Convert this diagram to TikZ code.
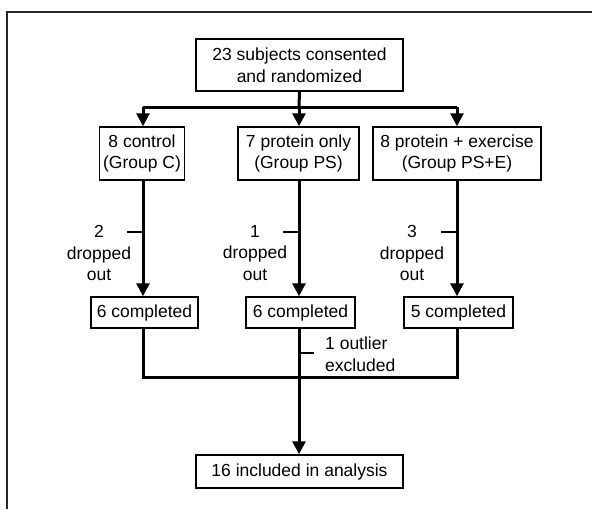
\documentclass[tikz,border=0pt]{standalone}
\usepackage{fontspec}
\setmainfont{Liberation Sans}
\usepackage{tikz}
\usetikzlibrary{arrows.meta, positioning}

\begin{document}
\begin{tikzpicture}[
    x=1pt, y=-1pt,
    every node/.style={font=\fontsize{17.5}{21.5}\selectfont, inner sep=0pt},
    box/.style={draw, line width=1.5pt, align=center},
    line/.style={line width=3pt},
    arrow/.style={line width=3pt, -{Triangle[width=13pt, length=13pt]}},
    note/.style={align=center}
]
    \useasboundingbox (0,0) rectangle (592,509);
    % outer frame, cut by the page edge
    \draw[line width=2pt, black!85] (7,509) -- (7,12) -- (592,12);

    \coordinate (lane1) at (143,0);
    \coordinate (lane2) at (299,0);
    \coordinate (lane3) at (457,0);

    \node[box, minimum width=207pt, minimum height=52pt] (start) at (299.5,65) {23 subjects consented\\and randomized};

    \node[box, minimum width=85pt,  minimum height=53pt] (ctrl) at (142,153.5) {8 control\\(Group C)};
    \node[box, minimum width=121pt, minimum height=53pt] (prot) at (298.5,153.5) {7 protein only\\(Group PS)};
    \node[box, minimum width=168pt, minimum height=53pt] (exer) at (457,153.5) {8 protein + exercise\\(Group PS+E)};

    \node[box, minimum width=107pt, minimum height=31pt] (ctrldone) at (144.5,312.5) {6 completed};
    \node[box, minimum width=109pt, minimum height=31pt] (protdone) at (300.5,312.5) {6 completed};
    \node[box, minimum width=109pt, minimum height=31pt] (exerdone) at (458.5,312.5) {5 completed};

    \node[box, minimum width=207pt, minimum height=33pt] (final) at (299.5,471.5) {16 included in analysis};

    % split after randomization
    \coordinate (split) at (299,107);
    \draw[line] (start.south) -- (split);
    \draw[line] (split -| lane1) -- (split -| lane3);
    \draw[arrow] (split -| lane1) -- (ctrl.north -| lane1);
    \draw[arrow] (split) -- (prot.north -| lane2);
    \draw[arrow] (split -| lane3) -- (exer.north -| lane3);

    % drop outs
    \draw[arrow] (ctrl.south -| lane1) -- (ctrldone.north -| lane1);
    \draw[arrow] (prot.south -| lane2) -- (protdone.north -| lane2);
    \draw[arrow] (exer.south -| lane3) -- (exerdone.north -| lane3);

    \draw[line width=2.5pt] (127,232) -- (143,232);
    \draw[line width=2.5pt] (283,232) -- (299,232);
    \draw[line width=2.5pt] (441,232) -- (457,232);
    \node[note] (ctrlout) at (99,253) {2\\dropped\\out};
    \node[note] (protout) at (255,253) {1\\dropped\\out};
    \node[note] (exerout) at (412,253) {3\\dropped\\out};

    % merge for analysis
    \coordinate (merge) at (299,377);
    \draw[line] (ctrldone.south -| lane1) -- (merge -| lane1) -- (merge -| lane3) -- (exerdone.south -| lane3);
    \draw[line] (protdone.south -| lane2) -- (merge);
    \draw[arrow] (merge) -- (final.north -| lane2);

    \draw[line width=2.5pt] (299,353) -- (314,353);
    \node[align=left, anchor=west] (outlier) at (325,354) {1 outlier\\excluded};
\end{tikzpicture}
\end{document}
